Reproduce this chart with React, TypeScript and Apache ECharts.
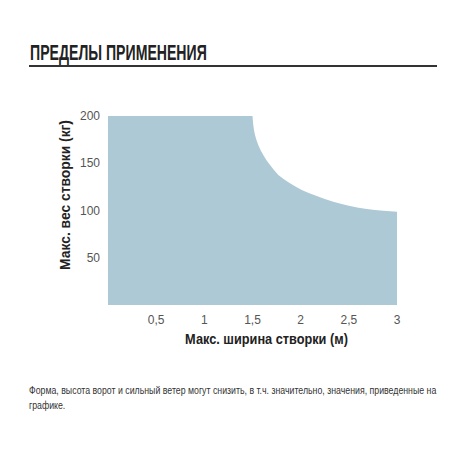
import React, { useEffect, useRef } from "react";
import * as echarts from "echarts";

const title = "ПРЕДЕЛЫ ПРИМЕНЕНИЯ";
const xName = "Макс. ширина створки (м)";
const yName = "Макс. вес створки (кг)";
const footLine1 = "Форма, высота ворот и сильный ветер могут снизить, в т.ч. значительно, значения, приведенные на";
const footLine2 = "графике.";
const widths = [0, 1.5, 1.503, 1.508, 1.516, 1.526, 1.541, 1.56, 1.584, 1.612, 1.645, 1.682, 1.723, 1.768, 1.826, 1.889, 1.95, 2.011, 2.09, 2.167, 2.25, 2.339, 2.425, 2.512, 2.6, 2.686, 2.77, 2.858, 2.93, 3];
const weights = [200, 200, 196, 190.5, 185, 179.9, 174.5, 169.3, 163.8, 158.7, 153.3, 148.1, 142.8, 137.6, 133, 128.8, 125.1, 121.7, 118.3, 115.3, 112.2, 109.3, 107, 104.8, 103, 101.6, 100.6, 99.8, 99.2, 98.6];

const FONT = "'Liberation Sans', Arial, sans-serif";

function measure(text: string, font: string): number {
  const c = document.createElement("canvas");
  const ctx = c.getContext("2d");
  if (!ctx) return 1;
  ctx.font = font;
  return ctx.measureText(text).width || 1;
}

export default function App() {
  const ref = useRef<HTMLDivElement>(null);
  useEffect(() => {
    if (!ref.current) return;
    const chart = echarts.init(ref.current, null, { renderer: "svg" });
    const titleScale = 177 / measure(title, `bold 22px ${FONT}`);
    const yNameScale = 150 / measure(yName, `bold 15px ${FONT}`);
    const xNameScale = 163 / measure(xName, `bold 15px ${FONT}`);
    const footScale = 408 / measure(footLine1, `11px ${FONT}`);
    chart.setOption({
      animation: false,
      backgroundColor: "#ffffff",
      grid: { left: 108, right: 53, top: 116, bottom: 145 },
      xAxis: {
        type: "value",
        min: 0,
        max: 3,
        interval: 0.5,
        axisLine: { show: false },
        axisTick: { show: false },
        splitLine: { show: false },
        axisLabel: {
          fontFamily: FONT,
          fontSize: 12,
          color: "#555",
          margin: 9,
          formatter: (v: number) => (v === 0 ? "" : String(v).replace(".", ",")),
        },
      },
      yAxis: {
        type: "value",
        min: 0,
        max: 200,
        interval: 50,
        axisLine: { show: false },
        axisTick: { show: false },
        splitLine: { show: false },
        axisLabel: {
          fontFamily: FONT,
          fontSize: 12,
          color: "#555",
          margin: 8,
          formatter: (v: number) => (v === 0 ? "" : String(v)),
        },
      },
      series: [
        {
          type: "line",
          data: widths.map((w, i) => [w, weights[i]]),
          symbol: "none",
          lineStyle: { width: 0 },
          areaStyle: { color: "#adc9d6", opacity: 1 },
        },
      ],
      graphic: [
        {
          type: "text",
          x: 30,
          y: 52,
          scaleX: titleScale,
          style: {
            text: title,
            fontFamily: FONT,
            fontWeight: "bold",
            fontSize: 22,
            fill: "#222",
            align: "left",
            verticalAlign: "middle",
          },
        },
        {
          type: "line",
          shape: { x1: 29, y1: 66, x2: 437, y2: 66 },
          style: { stroke: "#333", lineWidth: 2 },
        },
        {
          type: "text",
          x: 65,
          y: 195,
          rotation: Math.PI / 2,
          scaleX: yNameScale,
          style: {
            text: yName,
            fontFamily: FONT,
            fontWeight: "bold",
            fontSize: 15,
            fill: "#222",
            align: "center",
            verticalAlign: "middle",
          },
        },
        {
          type: "text",
          x: 266.5,
          y: 338.5,
          scaleX: xNameScale,
          style: {
            text: xName,
            fontFamily: FONT,
            fontWeight: "bold",
            fontSize: 15,
            fill: "#222",
            align: "center",
            verticalAlign: "middle",
          },
        },
        {
          type: "text",
          x: 29,
          y: 390,
          scaleX: footScale,
          style: {
            text: footLine1,
            fontFamily: FONT,
            fontSize: 11,
            fill: "#333",
            align: "left",
            verticalAlign: "middle",
          },
        },
        {
          type: "text",
          x: 29,
          y: 405,
          scaleX: footScale,
          style: {
            text: footLine2,
            fontFamily: FONT,
            fontSize: 11,
            fill: "#333",
            align: "left",
            verticalAlign: "middle",
          },
        },
      ],
    });
    return () => chart.dispose();
  }, []);
  return <div ref={ref} style={{ width: 450, height: 450, position: "absolute", left: 0, top: 0 }} />;
}
